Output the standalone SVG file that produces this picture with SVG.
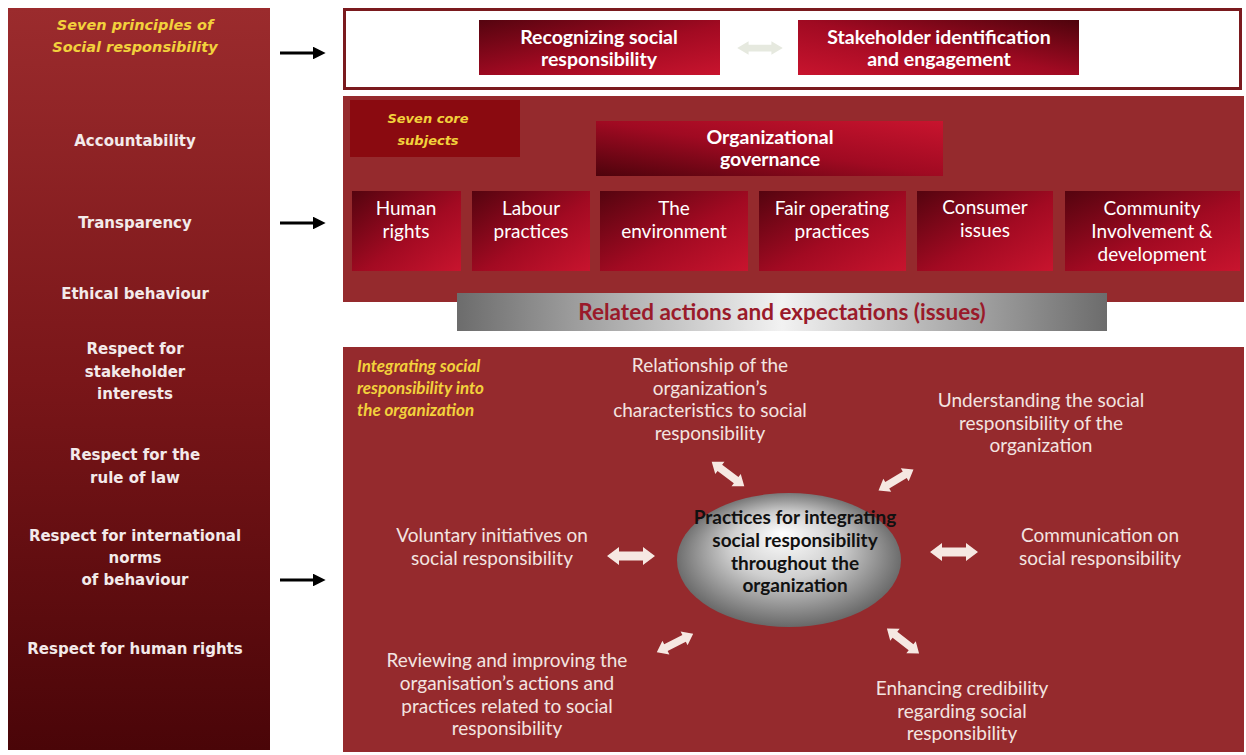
<svg xmlns="http://www.w3.org/2000/svg" width="1246" height="755" viewBox="0 0 1246 755">
<defs>
<linearGradient id="gLeft" x1="0" y1="0" x2="0" y2="1">
<stop offset="0" stop-color="#9b2b2d"/><stop offset="0.5" stop-color="#7a1619"/><stop offset="1" stop-color="#4a0508"/>
</linearGradient>
<linearGradient id="gBox" x1="0" y1="0" x2="1" y2="1">
<stop offset="0" stop-color="#55040f"/><stop offset="0.55" stop-color="#a20a22"/><stop offset="1" stop-color="#c8142e"/>
</linearGradient>
<linearGradient id="gBoxR" x1="0" y1="1" x2="1" y2="0">
<stop offset="0" stop-color="#c8142e"/><stop offset="0.5" stop-color="#a00a22"/><stop offset="1" stop-color="#4e030c"/>
</linearGradient>
<linearGradient id="gGray" x1="0" y1="0" x2="1" y2="0">
<stop offset="0" stop-color="#6c6c6c"/><stop offset="0.5" stop-color="#f2f2f2"/><stop offset="1" stop-color="#6c6c6c"/>
</linearGradient>
<radialGradient id="gBall" cx="0.5" cy="0.5" r="0.55" fx="0.47" fy="0.3">
<stop offset="0" stop-color="#ffffff"/><stop offset="0.45" stop-color="#cfcfcf"/><stop offset="1" stop-color="#5a5a5a"/>
</radialGradient>
<marker id="ah" markerWidth="4" markerHeight="4" refX="1" refY="2" orient="auto" markerUnits="strokeWidth">
<path d="M0,0 L4,2 L0,4 Z" fill="#000"/>
</marker>
<style>
.lt{font-family:"DejaVu Sans",Verdana,sans-serif;font-weight:bold;font-size:15px;fill:#f3eaea;text-anchor:middle}
.yi{font-family:"DejaVu Sans",Verdana,sans-serif;font-weight:bold;font-style:italic;fill:#f2d13c}
.yl{font-family:Lato,"Open Sans",sans-serif;font-weight:bold;font-style:italic;font-size:17px;fill:#f2d13c}
.bt{font-family:Lato,"Open Sans",sans-serif;font-weight:bold;font-size:19.5px;fill:#ffffff;text-anchor:middle}
.st{font-family:Lato,"Open Sans",sans-serif;font-size:19px;fill:#ffffff;text-anchor:middle}
.wt{font-family:Lato,"Open Sans",sans-serif;font-size:19px;fill:#f3e4e0;text-anchor:middle}
.ct{font-family:Lato,"Open Sans",sans-serif;font-weight:bold;font-size:19px;fill:#111;text-anchor:middle}
.panel{fill:#952a2d}
.arr{fill:#f6e8e2}
</style>
</defs>
<rect width="1246" height="755" fill="#ffffff"/>

<g id="principles">
<rect x="8" y="8" width="262" height="742" fill="url(#gLeft)"/>
<text class="yi" font-size="14.5" text-anchor="middle" x="135" y="30">Seven principles of</text>
<text class="yi" font-size="14.5" text-anchor="middle" x="135" y="52">Social responsibility</text>
<text class="lt" x="135" y="146">Accountability</text>
<text class="lt" x="135" y="228">Transparency</text>
<text class="lt" x="135" y="299">Ethical behaviour</text>
<text class="lt" x="135" y="354">Respect for</text>
<text class="lt" x="135" y="377">stakeholder</text>
<text class="lt" x="135" y="399">interests</text>
<text class="lt" x="135" y="460">Respect for the</text>
<text class="lt" x="135" y="483">rule of law</text>
<text class="lt" x="135" y="541">Respect for international</text>
<text class="lt" x="135" y="563">norms</text>
<text class="lt" x="135" y="585">of behaviour</text>
<text class="lt" x="135" y="654">Respect for human rights</text>
</g>

<g id="top-panel">
<rect x="344.5" y="9.5" width="896" height="79" fill="#ffffff" stroke="#7a1a1e" stroke-width="3"/>
</g>
<g id="recognizing">
<rect x="479" y="20" width="241" height="55" fill="url(#gBox)"/>
<text class="bt" x="599" y="44">Recognizing social</text>
<text class="bt" x="599" y="66">responsibility</text>
</g>
<g id="stakeholder">
<rect x="798" y="20" width="281" height="55" fill="url(#gBoxR)"/>
<text class="bt" x="939" y="44">Stakeholder identification</text>
<text class="bt" x="939" y="66">and engagement</text>
</g>

<g id="core-panel">
<rect x="343" y="96" width="901" height="206" class="panel"/>
</g>
<g id="seven-core">
<rect x="350" y="100" width="170" height="57" fill="#8a0a10"/>
<text class="yi" font-size="13" text-anchor="middle" x="428" y="123">Seven core</text>
<text class="yi" font-size="13" text-anchor="middle" x="428" y="145">subjects</text>
</g>
<g id="governance">
<rect x="596" y="121" width="347" height="55" fill="url(#gBoxR)" transform="rotate(180 769.5 148.5)"/>
<text class="bt" x="770" y="144">Organizational</text>
<text class="bt" x="770" y="166">governance</text>
</g>
<g id="human-rights">
<rect x="352" y="191" width="109" height="80" fill="url(#gBox)"/>
<text class="st" x="406" y="215">Human</text>
<text class="st" x="406" y="238">rights</text>
</g>
<g id="labour">
<rect x="472" y="191" width="118" height="80" fill="url(#gBox)"/>
<text class="st" x="531" y="215">Labour</text>
<text class="st" x="531" y="238">practices</text>
</g>
<g id="environment">
<rect x="600" y="191" width="148" height="80" fill="url(#gBox)"/>
<text class="st" x="674" y="215">The</text>
<text class="st" x="674" y="238">environment</text>
</g>
<g id="fair-operating">
<rect x="759" y="191" width="147" height="80" fill="url(#gBox)"/>
<text class="st" x="832" y="215">Fair operating</text>
<text class="st" x="832" y="238">practices</text>
</g>
<g id="consumer">
<rect x="917" y="191" width="136" height="80" fill="url(#gBox)"/>
<text class="st" x="985" y="214">Consumer</text>
<text class="st" x="985" y="237">issues</text>
</g>
<g id="community">
<rect x="1065" y="191" width="175" height="80" fill="url(#gBox)"/>
<text class="st" x="1152" y="215">Community</text>
<text class="st" x="1152" y="238">Involvement &amp;</text>
<text class="st" x="1152" y="261">development</text>
</g>

<g id="related-actions">
<rect x="457" y="293" width="650" height="38" fill="url(#gGray)"/>
<text x="782" y="320" text-anchor="middle" font-family="Lato,'Open Sans',sans-serif" font-weight="bold" font-size="22.5" fill="#9a1a2a">Related actions and expectations (issues)</text>
</g>

<g id="integrating-panel">
<rect x="343" y="347" width="901" height="405" class="panel"/>
<text class="yl" x="357" y="372">Integrating social</text>
<text class="yl" x="357" y="394">responsibility into</text>
<text class="yl" x="357" y="416">the organization</text>
</g>

<g id="practices">
<ellipse cx="789" cy="560" rx="112" ry="67" fill="url(#gBall)"/>
<text class="ct" x="795" y="524">Practices for integrating</text>
<text class="ct" x="795" y="547">social responsibility</text>
<text class="ct" x="795" y="570">throughout the</text>
<text class="ct" x="795" y="592">organization</text>
</g>

<g id="relationship">
<text class="wt" x="710" y="372">Relationship of the</text>
<text class="wt" x="710" y="395">organization’s</text>
<text class="wt" x="710" y="417">characteristics to social</text>
<text class="wt" x="710" y="440">responsibility</text>
</g>
<g id="understanding">
<text class="wt" x="1041" y="407">Understanding the social</text>
<text class="wt" x="1041" y="430">responsibility of the</text>
<text class="wt" x="1041" y="452">organization</text>
</g>
<g id="voluntary">
<text class="wt" x="492" y="542">Voluntary initiatives on</text>
<text class="wt" x="492" y="565">social responsibility</text>
</g>
<g id="communication">
<text class="wt" x="1100" y="542">Communication on</text>
<text class="wt" x="1100" y="565">social responsibility</text>
</g>
<g id="reviewing">
<text class="wt" x="507" y="667">Reviewing and improving the</text>
<text class="wt" x="507" y="690">organisation’s actions and</text>
<text class="wt" x="507" y="713">practices related to social</text>
<text class="wt" x="507" y="735">responsibility</text>
</g>
<g id="enhancing">
<text class="wt" x="962" y="695">Enhancing credibility</text>
<text class="wt" x="962" y="718">regarding social</text>
<text class="wt" x="962" y="740">responsibility</text>
</g>

<g id="connectors">
<line x1="280" y1="53" x2="316" y2="53" stroke="#000" stroke-width="3.2" marker-end="url(#ah)"/>
<line x1="280" y1="223" x2="316" y2="223" stroke="#000" stroke-width="3.2" marker-end="url(#ah)"/>
<line x1="280" y1="580" x2="316" y2="580" stroke="#000" stroke-width="3.2" marker-end="url(#ah)"/>
<path fill="#e6e9df" transform="translate(760,48) scale(0.95,0.75)" d="M-24,0 L-12,-9 L-12,-4.5 L12,-4.5 L12,-9 L24,0 L12,9 L12,4.5 L-12,4.5 L-12,9 Z"/>
<path class="arr" transform="translate(631,556)" d="M-24,0 L-12,-9 L-12,-4.5 L12,-4.5 L12,-9 L24,0 L12,9 L12,4.5 L-12,4.5 L-12,9 Z"/>
<path class="arr" transform="translate(954,552)" d="M-24,0 L-12,-9 L-12,-4.5 L12,-4.5 L12,-9 L24,0 L12,9 L12,4.5 L-12,4.5 L-12,9 Z"/>
<path class="arr" transform="translate(728,474) rotate(37) scale(0.85)" d="M-24,0 L-12,-9 L-12,-4.5 L12,-4.5 L12,-9 L24,0 L12,9 L12,4.5 L-12,4.5 L-12,9 Z"/>
<path class="arr" transform="translate(896,480) rotate(-31) scale(0.85)" d="M-24,0 L-12,-9 L-12,-4.5 L12,-4.5 L12,-9 L24,0 L12,9 L12,4.5 L-12,4.5 L-12,9 Z"/>
<path class="arr" transform="translate(675,643) rotate(-27) scale(0.85)" d="M-24,0 L-12,-9 L-12,-4.5 L12,-4.5 L12,-9 L24,0 L12,9 L12,4.5 L-12,4.5 L-12,9 Z"/>
<path class="arr" transform="translate(903,641) rotate(38) scale(0.85)" d="M-24,0 L-12,-9 L-12,-4.5 L12,-4.5 L12,-9 L24,0 L12,9 L12,4.5 L-12,4.5 L-12,9 Z"/>
</g>
</svg>
